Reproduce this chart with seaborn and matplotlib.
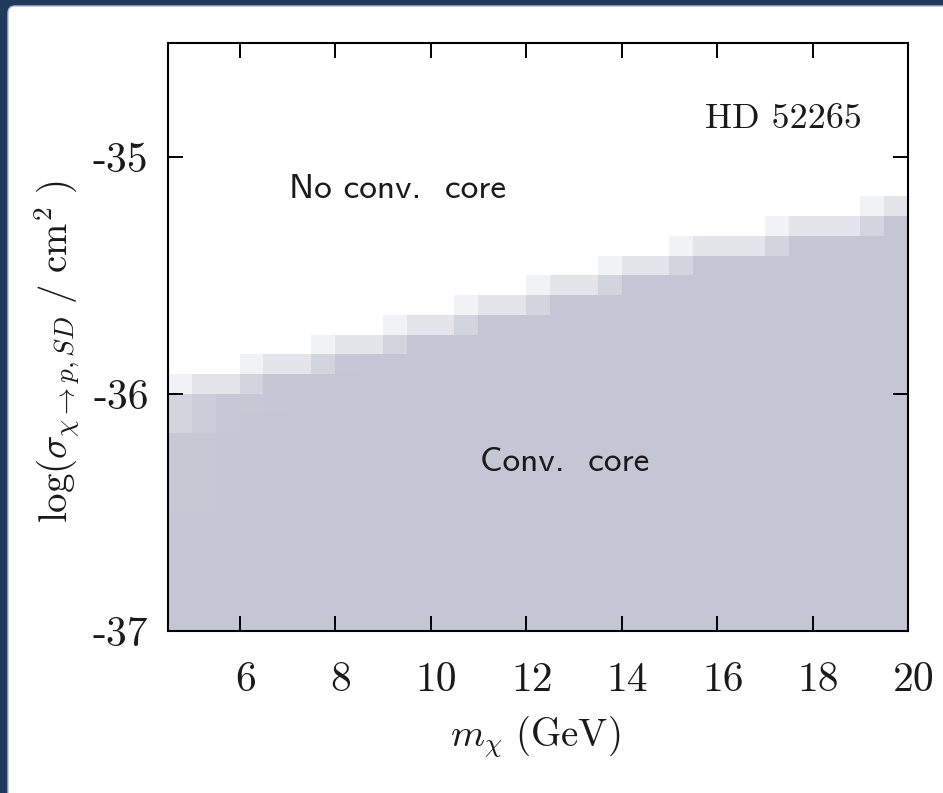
import numpy as np
import pandas as pd
import seaborn as sns
import matplotlib
matplotlib.use("Agg")
import matplotlib.pyplot as plt
from matplotlib.colors import LinearSegmentedColormap
from matplotlib.patches import FancyBboxPatch
from matplotlib.transforms import IdentityTransform, ScaledTranslation

# ---- grid of the scan -------------------------------------------------------
mass_lo, mass_step = 4.5, 0.5            # GeV, bin edges start / width
sigma_lo, sigma_step = -37.0, 1.0 / 12   # log10(sigma / cm^2), row edges start / height
n_mass, n_sigma = 31, 30

# upper edge (log sigma) of the highest shaded cell in each mass bin
top_edge = [-35.917, -35.917, -35.917,
            -35.833, -35.833, -35.833,
            -35.750, -35.750, -35.750,
            -35.667, -35.667, -35.667,
            -35.583, -35.583, -35.583,
            -35.500, -35.500, -35.500,
            -35.417, -35.417, -35.417,
            -35.333, -35.333, -35.333, -35.333,
            -35.250, -35.250, -35.250, -35.250,
            -35.167, -35.167]

# fraction of models with a convective core, from the top shaded cell downwards
top_frac = [0.24, 0.47, 0.47, 0.24, 0.47, 0.47, 0.24, 0.47, 0.47, 0.24, 0.47,
            0.47, 0.24, 0.47, 0.47, 0.24, 0.47, 0.47, 0.24, 0.47, 0.47, 0.24,
            0.47, 0.47, 0.47, 0.24, 0.47, 0.47, 0.47, 0.24, 0.47]
second_frac = [0.74, 0.88, 0.96, 0.75, 0.98, 0.98, 0.75, 0.98, 0.99, 0.75, 1.0,
               1.0, 0.75, 1.0, 1.0, 0.75, 1.0, 1.0, 0.75, 1.0, 1.0, 0.75,
               1.0, 1.0, 1.0, 0.75, 1.0, 1.0, 1.0, 0.75, 1.0]
third_frac = [0.74, 0.88, 0.96, 0.97, 0.98, 0.99, 0.99, 1.0, 1.0, 1.0, 1.0,
              1.0, 1.0, 1.0, 1.0, 1.0, 1.0, 1.0, 1.0, 1.0, 1.0, 1.0,
              1.0, 1.0, 1.0, 1.0, 1.0, 1.0, 1.0, 1.0, 1.0]
mid_frac = [0.97, 0.97, 0.98, 0.99, 0.99, 1.0, 1.0, 1.0, 1.0, 1.0, 1.0,
            1.0, 1.0, 1.0, 1.0, 1.0, 1.0, 1.0, 1.0, 1.0, 1.0, 1.0,
            1.0, 1.0, 1.0, 1.0, 1.0, 1.0, 1.0, 1.0, 1.0]

x_ticks = [6, 8, 10, 12, 14, 16, 18, 20]
y_ticks = [-37, -36, -35]

# ---- assemble the fraction grid (row 0 = lowest cross section) -------------
frac = np.zeros((n_sigma, n_mass))
for c in range(n_mass):
    t = int(round((top_edge[c] - sigma_lo) / sigma_step)) - 1
    frac[:t + 1, c] = 1.0
    frac[max(t - 6, 0):t - 2, c] = mid_frac[c]
    frac[t, c] = top_frac[c]
    frac[t - 1, c] = second_frac[c]
    frac[t - 2, c] = third_frac[c]

mass_centres = [mass_lo + mass_step * (c + 0.5) for c in range(n_mass)]
sigma_centres = [sigma_lo + sigma_step * (r + 0.5) for r in range(n_sigma)]
df = pd.DataFrame(frac, index=np.round(sigma_centres, 3), columns=mass_centres)


def xpos(m):
    return (m - mass_lo) / mass_step


def ypos(s):
    return (s - sigma_lo) / sigma_step


# ---- figure -----------------------------------------------------------------
sns.set_style("white")
plt.rcParams["mathtext.fontset"] = "cm"
plt.rcParams["axes.unicode_minus"] = False

fig = plt.figure(figsize=(9.43, 7.93), dpi=100)
fig.patch.set_facecolor("#1f3a5d")
panel = FancyBboxPatch((8, -20), 1000, 793 - 6 + 20,
                       boxstyle="round,pad=0,rounding_size=7",
                       transform=IdentityTransform(), facecolor="white",
                       edgecolor="#aebccd", linewidth=1.0, zorder=0)
fig.add_artist(panel)

ax = fig.add_axes([168 / 943, 1 - 631 / 793, (908 - 168) / 943, (631 - 43) / 793])

cmap = LinearSegmentedColormap.from_list("core", ["#ffffff", "#c4c7d3"])
sns.heatmap(df, ax=ax, cmap=cmap, vmin=0, vmax=1, cbar=False,
            xticklabels=False, yticklabels=False)

ax.set_xlim(0, n_mass)
ax.set_ylim(0, ypos(-34.52))
ax.set_axisbelow(False)

for side in ["left", "right", "top", "bottom"]:
    ax.spines[side].set_visible(True)
    ax.spines[side].set_color("black")
    ax.spines[side].set_linewidth(1.5)
    ax.spines[side].set_zorder(5)

ax.set_xticks([xpos(v) for v in x_ticks])
ax.set_xticklabels([str(v) for v in x_ticks], fontfamily="cmr10", fontsize=30)
ax.set_yticks([ypos(v) for v in y_ticks])
ax.set_yticklabels([str(v) for v in y_ticks], fontfamily="cmr10", fontsize=30)
ax.tick_params(axis="both", direction="in", length=11, width=1.4, color="black",
               bottom=True, left=True, top=True, right=True,
               labelbottom=True, labelleft=True, labeltop=False, labelright=False,
               labelcolor="#1a1a1a")
ax.tick_params(axis="x", pad=22)
ax.tick_params(axis="y", pad=14)
shift = ScaledTranslation(6 / 100, 0, fig.dpi_scale_trans)
for lab in ax.get_xticklabels():
    lab.set_transform(lab.get_transform() + shift)

ax.set_xlabel(r"$m_\chi\ (\mathrm{GeV})$", fontsize=28, color="#1a1a1a")
ax.set_ylabel(r"$\log(\sigma_{\chi\to p,SD}\ /\ \mathrm{cm}^2\ )$", fontsize=28,
              color="#1a1a1a")
ax.xaxis.set_label_coords((535 - 168) / 740, (631 - 737) / 588)
ax.xaxis.label.set_verticalalignment("center")
ax.yaxis.set_label_coords((57 - 168) / 740, (631 - 352) / 588)
ax.yaxis.label.set_verticalalignment("center")

ax.text(xpos(15.75), ypos(-34.84), "HD 52265", fontfamily="cmr10", fontsize=26,
        color="#1a1a1a", va="center", ha="left")
ax.text(xpos(7.03), ypos(-35.14), "No conv.  core", fontfamily="cmss10", fontsize=25.5,
        color="#1a1a1a", va="center", ha="left")
ax.text(xpos(11.04), ypos(-36.29), "Conv.  core", fontfamily="cmss10", fontsize=25.5,
        color="#1a1a1a", va="center", ha="left")

fig.savefig("out.png", dpi=100, facecolor=fig.get_facecolor())
